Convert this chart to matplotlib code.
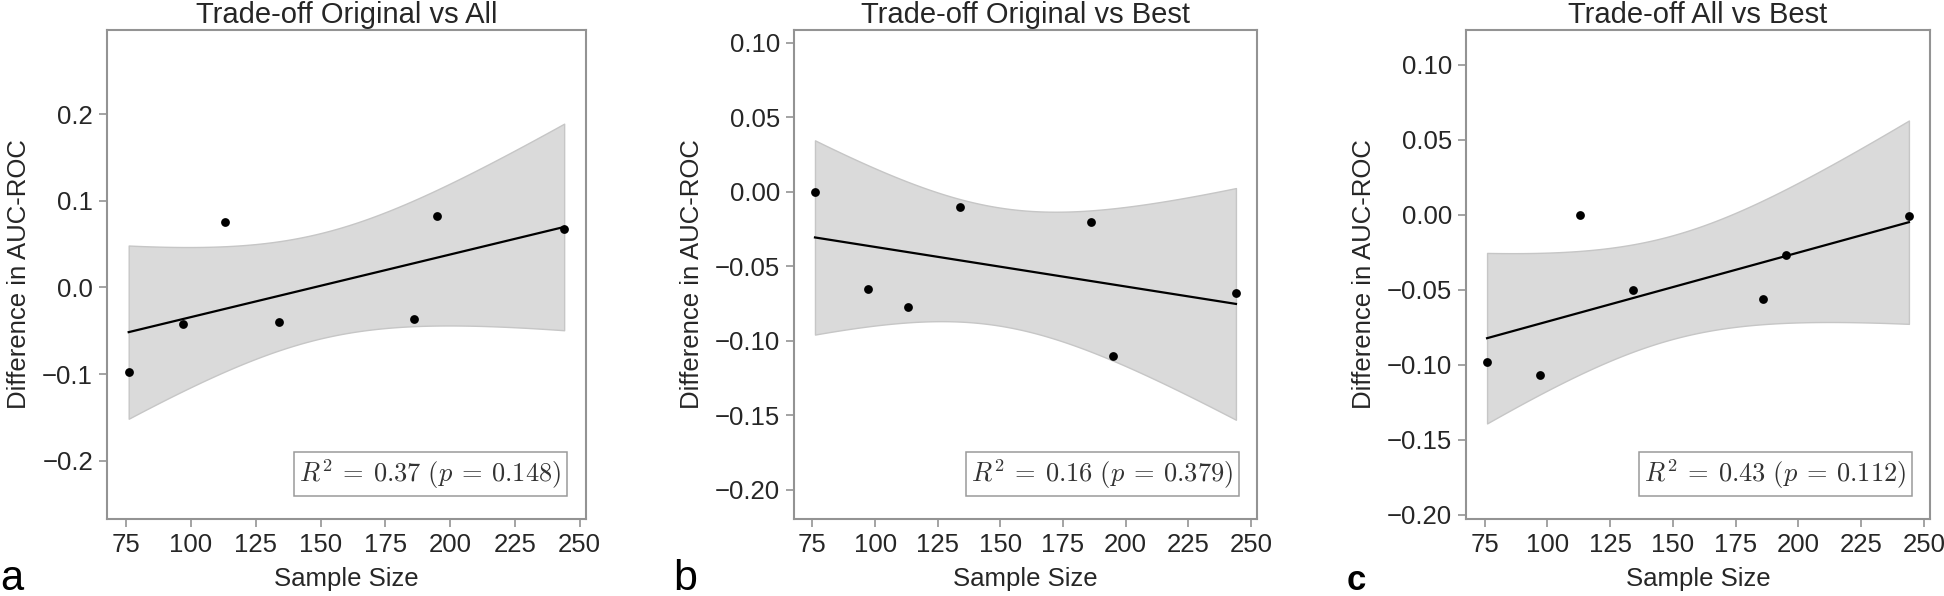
import numpy as np
import matplotlib
matplotlib.use("Agg")
import matplotlib.pyplot as plt

plt.rcParams['font.family'] = ['Liberation Sans', 'DejaVu Sans']
plt.rcParams['mathtext.fontset'] = 'cm'

sample_size = [76, 97, 113, 134, 186, 195, 244]
diff_orig_all = [-0.097, -0.042, 0.076, -0.040, -0.036, 0.082, 0.067]
diff_orig_best = [0.000, -0.065, -0.077, -0.010, -0.020, -0.110, -0.068]
diff_all_best = [-0.098, -0.107, 0.000, -0.050, -0.056, -0.027, -0.001]

titles = ["Trade-off Original vs All", "Trade-off Original vs Best", "Trade-off All vs Best"]
r2_values = ["0.37", "0.16", "0.43"]
p_values = ["0.148", "0.379", "0.112"]
panel_letters = ["a", "b", "c"]
y_limits = [(-0.267, 0.297), (-0.2195, 0.1087), (-0.2027, 0.1233)]
y_ticks = [[-0.2, -0.1, 0.0, 0.1, 0.2],
           [-0.20, -0.15, -0.10, -0.05, 0.00, 0.05, 0.10],
           [-0.20, -0.15, -0.10, -0.05, 0.00, 0.05, 0.10]]
y_fmt = ["{:.1f}", "{:.2f}", "{:.2f}"]

T_975_DF5 = 2.5706  # t quantile for 95% CI with n-2 = 5 dof

spine_col = "#939393"
text_col = "#262626"
fig = plt.figure(figsize=(19.44, 5.96), dpi=100)
positions = [[0.0550, 0.1292, 0.2464, 0.8205],
             [0.4084, 0.1292, 0.2382, 0.8205],
             [0.7541, 0.1292, 0.2387, 0.8205]]
letter_x = [0.0, 673 / 1944, 1347 / 1944]
letter_style = [dict(fontsize=30), dict(fontsize=31), dict(fontsize=25, fontweight="bold")]

for i, yvals in enumerate([diff_orig_all, diff_orig_best, diff_all_best]):
    ax = fig.add_axes(positions[i])
    x = np.array(sample_size, dtype=float)
    y = np.array(yvals)

    # least squares fit + 95% confidence band of the mean
    slope, intercept = np.polyfit(x, y, 1)
    xs = np.linspace(x.min(), x.max(), 200)
    fit = slope * xs + intercept
    resid = y - (slope * x + intercept)
    s = np.sqrt(np.sum(resid ** 2) / (len(x) - 2))
    sxx = np.sum((x - x.mean()) ** 2)
    half = T_975_DF5 * s * np.sqrt(1 / len(x) + (xs - x.mean()) ** 2 / sxx)

    ax.fill_between(xs, fit - half, fit + half, color="#dadada", edgecolor="#c6c6c6", lw=1)
    ax.plot(xs, fit, color="black", lw=1.6)
    ax.scatter(x, y, color="black", s=40, zorder=3, linewidths=0)

    ax.set_ylim(y_limits[i])
    ax.set_yticks(y_ticks[i])
    ax.set_yticklabels([y_fmt[i].format(v).replace("-", "\u2212") for v in y_ticks[i]])
    ax.set_xticks([75, 100, 125, 150, 175, 200, 225, 250])

    ax.set_title(titles[i], fontsize=21, pad=5, color=text_col)
    ax.set_xlabel("Sample Size", fontsize=18.5, labelpad=7, color=text_col)
    ax.set_ylabel("Difference in AUC-ROC", fontsize=18.5, labelpad=8, color=text_col)
    ax.tick_params(labelsize=18.5, color=spine_col, labelcolor=text_col, length=6, width=1.2, pad=4)
    for sp in ax.spines.values():
        sp.set_color(spine_col)
        sp.set_linewidth(1.5)

    label = r"$R^2 \:=\: %s\ (p \:=\: %s)$" % (r2_values[i], p_values[i])
    ax.text(0.949, 0.058, label, transform=ax.transAxes, ha="right", va="bottom",
            fontsize=19, color="#333333",
            bbox=dict(boxstyle="square,pad=0.2", fc="white", ec="#9a9a9a", lw=1.1))

    fig.text(letter_x[i], 6 / 596, panel_letters[i], ha="left", va="baseline",
             color="black", **letter_style[i])

fig.savefig("out.png", dpi=100)
